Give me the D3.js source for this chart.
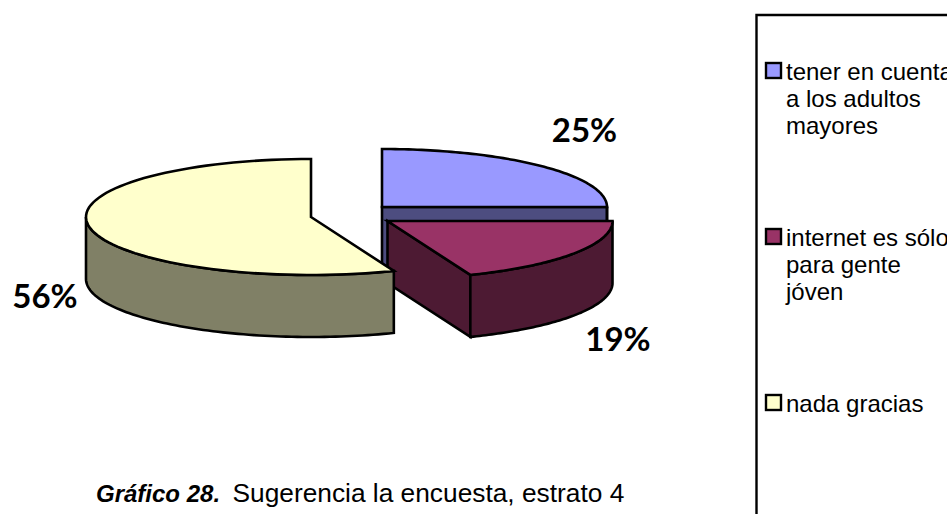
<!DOCTYPE html>
<html><head><meta charset="utf-8">
<script src="https://cdn.jsdelivr.net/npm/d3@7"></script>
<style>html,body{margin:0;padding:0;background:#fff}svg{display:block}</style>
</head><body><div id="chart"></div>
<script>
const categories = ["tener en cuenta a los adultos mayores", "internet es sólo para gente jóven", "nada gracias"];
const values = [25, 19, 56];
const percentLabels = ["25%", "19%", "56%"];
const legendLines = [["tener en cuenta", "a los adultos", "mayores"], ["internet es sólo", "para gente", "jóven"], ["nada gracias"]];
const topColors = ["#9999ff", "#993366", "#ffffcc"];
const sideColors = ["#4d4d80", "#4d1a33", "#808066"];
const caption = ["Gráfico 28.", "Sugerencia la encuesta, estrato 4"];

const W = 947, H = 514;
const svg = d3.select("#chart").append("svg").attr("width", W).attr("height", H);

const rx = 225, ry = 58, depth = 62;
const centers = [[382, 207], [387.5, 221], [311, 217]];
const labelPos = [[584.5, 142], [618, 351], [45, 308]];

const px = d3.scaleLinear().domain([-1, 1]).range([-rx, rx]);
const py = d3.scaleLinear().domain([-1, 1]).range([-ry, ry]);
const pie = d3.pie().sort(null).value(d => d)(values);

function pt(c, a, dz = 0) { return [c[0] + px(Math.sin(a)), c[1] + py(-Math.cos(a)) + dz]; }
function arcPts(c, a0, a1, dz = 0) {
  const n = 80;
  return d3.range(n + 1).map(i => pt(c, a0 + (a1 - a0) * i / n, dz));
}
const line = d3.line();
const stroke = { stroke: "#000", "stroke-width": 2.6, "stroke-linejoin": "miter" };
function draw(points, fill) {
  const p = svg.append("path").attr("d", line(points) + "Z").attr("fill", fill);
  Object.entries(stroke).forEach(([k, v]) => p.attr(k, v));
}
function cutFace(c, a, fill) {
  draw([c, pt(c, a), pt(c, a, depth), [c[0], c[1] + depth]], fill);
}
function outerWall(c, a0, a1, fill) {
  const s = Math.max(a0, Math.PI / 2), e = Math.min(a1, 3 * Math.PI / 2);
  if (e <= s) return;
  draw(arcPts(c, s, e).concat(arcPts(c, e, s, depth)), fill);
}
function topFace(c, a0, a1, fill) {
  draw([c].concat(arcPts(c, a0, a1)), fill);
}

[0, 1, 2].forEach(i => {
  const s = pie[i], c = centers[i];
  if (i < 2) cutFace(c, s.endAngle, sideColors[i]);
  outerWall(c, s.startAngle, s.endAngle, sideColors[i]);
  topFace(c, s.startAngle, s.endAngle, topColors[i]);
});

percentLabels.forEach((t, i) => {
  svg.append("text").attr("x", labelPos[i][0]).attr("y", labelPos[i][1])
    .attr("text-anchor", "middle").attr("font-family", "Lato, sans-serif")
    .attr("font-weight", 700).attr("font-size", 33).attr("fill", "#000").text(t);
});

// legend frame
svg.append("path").attr("d", "M756.5,514V15H947").attr("fill", "none").attr("stroke", "#000").attr("stroke-width", 2.4);

const legendBase = [80, 246, 412];
const legendY = d3.scaleOrdinal().domain(categories).range(legendBase);
categories.forEach((cat, i) => {
  svg.append("rect").attr("x", 766).attr("y", legendY(cat) - 17).attr("width", 15).attr("height", 15)
    .attr("fill", topColors[i]).attr("stroke", "#000").attr("stroke-width", 2.4);
  legendLines[i].forEach((t, j) => {
    svg.append("text").attr("x", 786).attr("y", legendY(cat) + j * 26.8)
      .attr("font-family", "Liberation Sans, Arial, sans-serif").attr("font-size", 24).attr("fill", "#000").text(t);
  });
});

const fam = "Liberation Sans, Arial, sans-serif";
svg.append("text").attr("x", 96).attr("y", 502).attr("font-family", fam).attr("font-size", 24)
  .attr("font-weight", 700).attr("font-style", "italic").attr("fill", "#000").text(caption[0]);
svg.append("text").attr("x", 232.5).attr("y", 502).attr("font-family", fam).attr("font-size", 26.3)
  .attr("fill", "#000").text(caption[1]);
</script></body></html>
